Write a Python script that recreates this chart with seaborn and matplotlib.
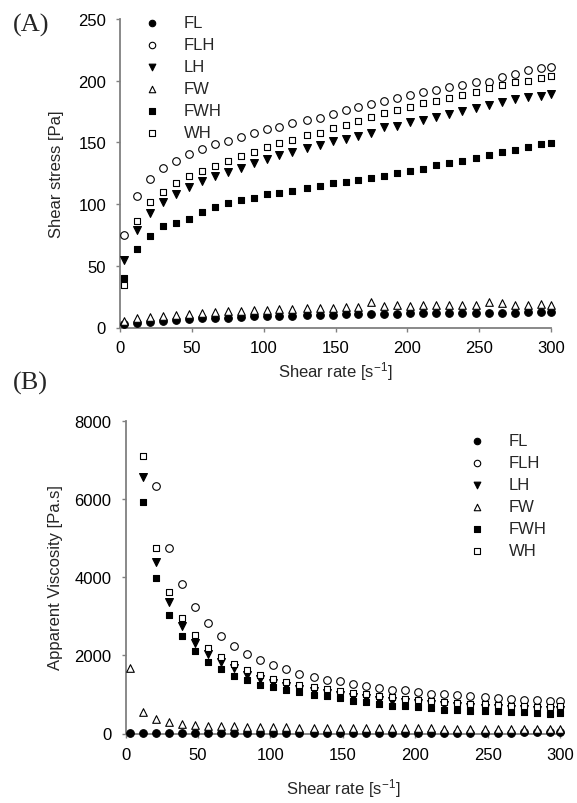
import numpy as np
import pandas as pd
import matplotlib
matplotlib.use("Agg")
import matplotlib.pyplot as plt
import seaborn as sns

sns.set_style("white")
plt.rcParams['font.family'] = ['Liberation Sans', 'DejaVu Sans']
plt.rcParams['mathtext.default'] = 'regular'

nan = np.nan
series = ["FL", "FLH", "LH", "FW", "FWH", "WH"]

shear_rate = [3, 12, 21, 30, 39, 48, 57, 66, 75, 84, 93, 102, 111, 120, 130, 139, 148,
              157, 166, 175, 184, 193, 202, 211, 220, 229, 238, 248, 257, 266, 275, 284, 293, 300]

# Panel A: shear stress [Pa]
stress_FL = [2.7, 3.5, 4.6, 5.4, 6.0, 6.8, 7.3, 7.6, 8.1, 8.6, 9.0, 9.2, 9.5, 9.7, 10.0, 10.3, 10.3,
             10.6, 10.8, 11.0, 11.2, 11.3, 11.4, 11.5, 11.6, 11.7, 11.8, 11.9, 12.0, 12.0, 12.1, 12.2, 12.3, 12.3]
stress_FLH = [74.9, 106.8, 120.3, 129, 135, 140.5, 144.6, 148.7, 150.8, 154.3, 157.3, 160.8, 162.7, 165.4, 168.4, 170, 173,
              176.5, 179, 181, 183.8, 186, 188.4, 190.5, 192.7, 194.6, 196.5, 198.7, 199.2, 202.7, 205.4, 208.7, 210.3, 210.8]
stress_LH = [54.9, 79.2, 92.7, 101.4, 108, 113.5, 118.4, 122.4, 126.2, 129.2, 133.3, 136.5, 139.7, 142, 145.4, 148, 150.8,
             152.7, 155.4, 158, 162.2, 163.5, 166.2, 168.4, 170.3, 173, 175.7, 177.6, 180.3, 183, 185.2, 186.5, 187.9, 189.2]
stress_FW = [5.4, 7.3, 8.6, 9.5, 10.3, 11, 11.6, 12.4, 13, 13.5, 14, 14.3, 14.9, 14.9, 15.4, 15.7, 16,
             17, 17, 20.8, 17.6, 18, 17.6, 18.6, 18.6, 18.4, 18.6, 18.6, 20.3, 20, 18.6, 18.6, 19.2, 18.6]
stress_FWH = [40.5, 63.5, 74.3, 82, 84.6, 87.8, 94, 97.3, 100.5, 103, 105, 108, 109, 111, 113, 114.6, 116.8,
              118, 119.5, 121.4, 123, 125, 126.5, 128.4, 131.6, 133, 134.6, 137, 139.5, 142, 144, 146, 148.7, 149.7]
stress_WH = [34.6, 86.5, 101.4, 109.5, 116.8, 122.4, 126.5, 131, 135, 138.7, 142.4, 146, 149.2, 152.2, 156.2, 157.6, 161.6,
             164, 167.6, 170.6, 173.5, 176.2, 178.4, 181.6, 183.8, 186, 188.4, 190.5, 193.8, 196.5, 198.7, 199.5, 202.2, 203.5]

# Panel B: apparent viscosity [Pa.s] (nan = above the plotted range)
visc_FL = [5, 8, 10, 12, 14, 15, 16, 17, 18, 19, 20, 20, 20, 21, 21, 22, 22,
           22, 23, 23, 23, 24, 24, 24, 24, 25, 25, 25, 25, 25, 26, 26, 26, 26]
visc_FLH = [nan, nan, 6314, 4740, 3821, 3225, 2825, 2485, 2230, 2034, 1889, 1745, 1651, 1532, 1438, 1379, 1330,
            1277, 1208, 1166, 1123, 1106, 1064, 1021, 1013, 979, 953, 928, 911, 885, 868, 851, 826, 826]
visc_LH = [nan, 6553, 4374, 3353, 2740, 2315, 2034, 1830, 1676, 1506, 1396, 1293, 1208, 1140, 1081, 1038, 978,
           935, 895, 860, 825, 795, 770, 745, 720, 700, 680, 662, 648, 635, 622, 610, 598, 600]
visc_FW = [1676, 545, 374, 289, 247, 213, 204, 187, 187, 170, 170, 160, 155, 150, 148, 145, 142,
           140, 138, 136, 134, 132, 130, 128, 126, 124, 122, 120, 118, 116, 114, 112, 110, 110]
visc_FWH = [nan, 5914, 3974, 3038, 2485, 2102, 1830, 1651, 1481, 1379, 1251, 1191, 1123, 1055, 996, 953, 900,
            843, 800, 766, 715, 698, 681, 655, 613, 613, 587, 587, 570, 553, 545, 528, 511, 528]
visc_WH = [nan, 7097, 4740, 3608, 2953, 2527, 2187, 1957, 1778, 1634, 1506, 1404, 1310, 1234, 1183, 1149, 1095,
           1038, 1013, 970, 936, 894, 868, 843, 800, 783, 766, 749, 732, 715, 698, 681, 672, 698]

stress = dict(FL=stress_FL, FLH=stress_FLH, LH=stress_LH, FW=stress_FW, FWH=stress_FWH, WH=stress_WH)
visc = dict(FL=visc_FL, FLH=visc_FLH, LH=visc_LH, FW=visc_FW, FWH=visc_FWH, WH=visc_WH)

rows = []
for s in series:
    for i, x in enumerate(shear_rate):
        rows.append(dict(series=s, rate=x, stress=stress[s][i], visc=visc[s][i]))
df = pd.DataFrame(rows)

style = {
    "FL": dict(marker="o", fc="black", s=30),
    "FLH": dict(marker="o", fc="white", s=30),
    "LH": dict(marker="v", fc="black", s=32),
    "FW": dict(marker="^", fc="white", s=30),
    "FWH": dict(marker="s", fc="black", s=24),
    "WH": dict(marker="s", fc="white", s=24),
}

W, H = 577, 804
fig = plt.figure(figsize=(W / 100, H / 100), dpi=100)

def px_axes(l, t, r, b):
    return fig.add_axes([l / W, 1 - b / H, (r - l) / W, (b - t) / H])

axA = px_axes(120, 20, 551, 328.5)
axB = px_axes(125.5, 421.5, 560, 734.5)

FS = 12

def style_axes(ax):
    for sp in ["top", "right"]:
        ax.spines[sp].set_visible(False)
    for sp in ["left", "bottom"]:
        ax.spines[sp].set_color("#808080")
        ax.spines[sp].set_linewidth(1.3)
    ax.tick_params(direction="out", length=3, width=1, color="#808080",
                   labelsize=FS, labelcolor="black", left=True, bottom=True)
    ax.grid(False)

for ycol, ax in [("stress", axA), ("visc", axB)]:
    for s in series:
        st = style[s]
        sub = df[df.series == s]
        sns.scatterplot(data=sub, x="rate", y=ycol, ax=ax, marker=st["marker"],
                        color=st["fc"], edgecolor="black", linewidth=0.8, s=st["s"],
                        label=s, clip_on=False, zorder=3)
    style_axes(ax)
    ax.set_xlim(0, 300)
    ax.set_xticks(range(0, 301, 50))

axA.set_ylim(0, 250)
axA.set_yticks(range(0, 251, 50))
axB.set_ylim(0, 8000)
axB.set_yticks(range(0, 8001, 2000))
axA.tick_params(axis="x", pad=6)
axA.tick_params(axis="y", pad=7)
axB.tick_params(axis="x", pad=7)
axB.tick_params(axis="y", pad=7)

axA.set_xlabel("Shear rate [s$^{-1}$]", fontsize=FS, labelpad=3)
axA.set_ylabel("Shear stress [Pa]", fontsize=FS, labelpad=10)
axB.set_xlabel("Shear rate [s$^{-1}$]", fontsize=FS, labelpad=10)
axB.set_ylabel("Apparent Viscosity [Pa.s]", fontsize=FS, labelpad=8)

def make_legend(ax, left_px, top_px):
    h, l = ax.get_legend_handles_labels()
    ax.legend(h, l, loc="upper left", bbox_to_anchor=(left_px / W, 1 - top_px / H),
              bbox_transform=fig.transFigure, frameon=False, borderpad=0,
              handlelength=1.0, handletextpad=1.4, labelspacing=0.42, fontsize=12,
              borderaxespad=0, markerscale=0.85)

make_legend(axA, 144, 16)
make_legend(axB, 469, 434)

fig.text(13 / W, 1 - 25 / H, "(A)", fontfamily="Liberation Serif", fontsize=19, va="center", ha="left")
fig.text(13 / W, 1 - 383 / H, "(B)", fontfamily="Liberation Serif", fontsize=19, va="center", ha="left")

fig.savefig("out.png", dpi=100, facecolor="white")
